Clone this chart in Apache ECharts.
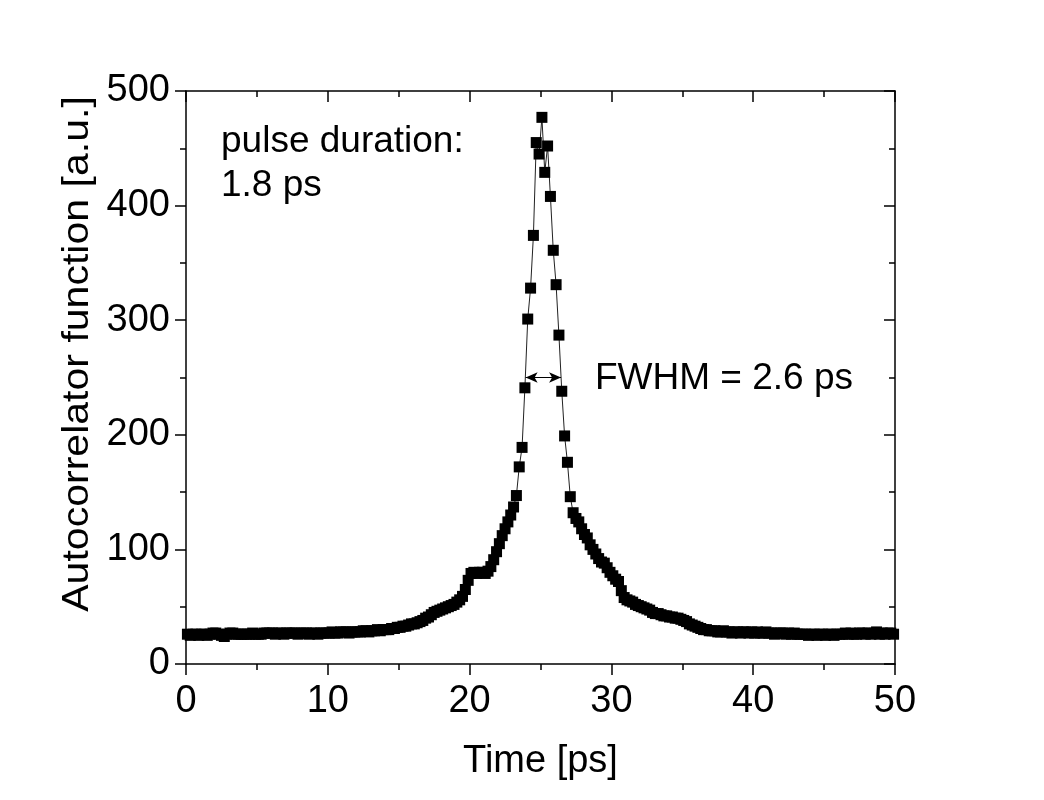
<!DOCTYPE html>
<html>
<head>
<meta charset="utf-8">
<script src="https://cdn.jsdelivr.net/npm/echarts@6/dist/echarts.min.js"></script>
<style>html,body{margin:0;padding:0;background:#fff;}#c{width:1044px;height:800px;}</style>
</head>
<body>
<div id="c"></div>
<script>
// Sampling grid of the measurement (ps)
const timeStart = 0.1;
const timeStep = 0.2;
// Autocorrelator signal [a.u.]
const baseline = [26,25,26,26,25,26,26,25,26,27, 27,26,25,24,26,27,27,26,26,26,
  26,26,26,27,26,26,26,27,27,27, 27,26,27,27,26,27,27,27,27,26,
  27,27,27,26,27,27,26,27,27,27, 27,28,27,27,28,28,28,27,28,28,
  28,28,29,29,28];
const rise = [29,29,30,29,30,30,30,31,31,32, 32,33,33,34,35,35,36,37,38,40,
  41,43,45,46,47,48,49,50,51,52, 54,56,59,65,73,79,80,79,80,80,
  79,81,85,91,98,105,112,118,124,130, 137];
const peak = [147,172,189,241,301,328,374,455,445,477, 429,452,408,361,331,287,238,199,176,146];
const decay = [132,127,124,118,113,110,104,100,96,92, 89,88,84,80,77,74,72,64,58,56,
  55,54,52,51,50,49,48,47,45,44, 44,43,42,42,41,41,40,40,39,38,
  37,35,34,33,32,31,30,30,29,29, 29];
const tail = [28,28,29,28,28,27,28,28,27,28,28,27,28,
  27,28,27,27,28,27,27,26,27,27,27,26,27,
  26,27,26,26,26,26,25,26,26,25,26,26,25,
  26,26,25,26,26,26,27,26,27,26,26,27,
  27,26,27,26,27,28,26,27,26,27,27,26];
const signal = baseline.concat(rise, peak, decay, tail);
const xTicks = {min: 0, max: 50, interval: 10};
const yTicks = {min: 0, max: 500, interval: 100};
const fwhmLevel = 250;
const fwhmStart = 23.95;
const fwhmEnd = 26.45;
const xName = 'Time [ps]';
const yName = 'Autocorrelator function [a.u.]';
const annotation1 = 'pulse duration:';
const annotation2 = '1.8 ps';
const annotation3 = 'FWHM = 2.6 ps';

const data = signal.map((v, i) => [+(timeStart + i * timeStep).toFixed(2), v]);

const FONT = 'Liberation Sans, Arial, sans-serif';
const black = '#000';
function axisBase(extra) {
  return Object.assign({
    type: 'value',
    axisLine: {show: true, onZero: false, lineStyle: {color: black, width: 1.5}},
    axisTick: {show: true, length: 11, lineStyle: {color: black, width: 1.5}},
    minorTick: {show: true, splitNumber: 2, length: 6, lineStyle: {color: black, width: 1.5}},
    splitLine: {show: false},
    minorSplitLine: {show: false},
    axisLabel: {fontSize: 38, color: black, fontFamily: FONT}
  }, extra);
}

const chart = echarts.init(document.getElementById('c'), null, {renderer: 'canvas'});
chart.setOption({
  animation: false,
  backgroundColor: '#fff',
  grid: {left: 186, right: 149, top: 91, bottom: 136, containLabel: false},
  xAxis: [
    axisBase(Object.assign({}, xTicks, {
      position: 'bottom',
      axisLabel: {fontSize: 38, color: black, fontFamily: FONT, margin: 19},
      name: xName, nameLocation: 'middle', nameGap: 79,
      nameTextStyle: {fontSize: 38, color: black, fontFamily: FONT}
    })),
    axisBase(Object.assign({}, xTicks, {
      position: 'top',
      axisTick: {show: true, inside: true, length: 11, lineStyle: {color: black, width: 1.5}},
      axisLabel: {show: false}
    }))
  ],
  yAxis: [
    axisBase(Object.assign({}, yTicks, {
      position: 'left',
      axisLabel: {fontSize: 38, color: black, fontFamily: FONT, margin: 16}
    })),
    axisBase(Object.assign({}, yTicks, {
      position: 'right',
      axisTick: {show: true, inside: true, length: 11, lineStyle: {color: black, width: 1.5}},
      axisLabel: {show: false}
    }))
  ],
  series: [{
    type: 'line',
    xAxisIndex: 0,
    yAxisIndex: 0,
    data: data,
    symbol: 'rect',
    symbolSize: 11,
    showAllSymbol: true,
    itemStyle: {color: black},
    lineStyle: {color: '#222', width: 1},
    markLine: {
      silent: true,
      symbol: ['arrow', 'arrow'],
      symbolSize: [8, 12],
      label: {show: false},
      lineStyle: {color: black, width: 1.2, type: 'solid'},
      data: [[{coord: [fwhmStart, fwhmLevel]}, {coord: [fwhmEnd, fwhmLevel]}]]
    }
  }],
  graphic: [
    {type: 'text', x: 78, y: 354, rotation: Math.PI / 2, scaleX: 1.14,
      style: {text: yName, font: '36px ' + FONT, fill: black, align: 'center', verticalAlign: 'middle'}},
    {type: 'text', x: 221, y: 142, style: {text: annotation1, font: '37px ' + FONT, fill: black, verticalAlign: 'middle'}},
    {type: 'text', x: 221, y: 186, style: {text: annotation2, font: '37px ' + FONT, fill: black, verticalAlign: 'middle'}},
    {type: 'text', x: 595, y: 379, style: {text: annotation3, font: '37px ' + FONT, fill: black, verticalAlign: 'middle'}}
  ]
});
</script>
</body>
</html>
